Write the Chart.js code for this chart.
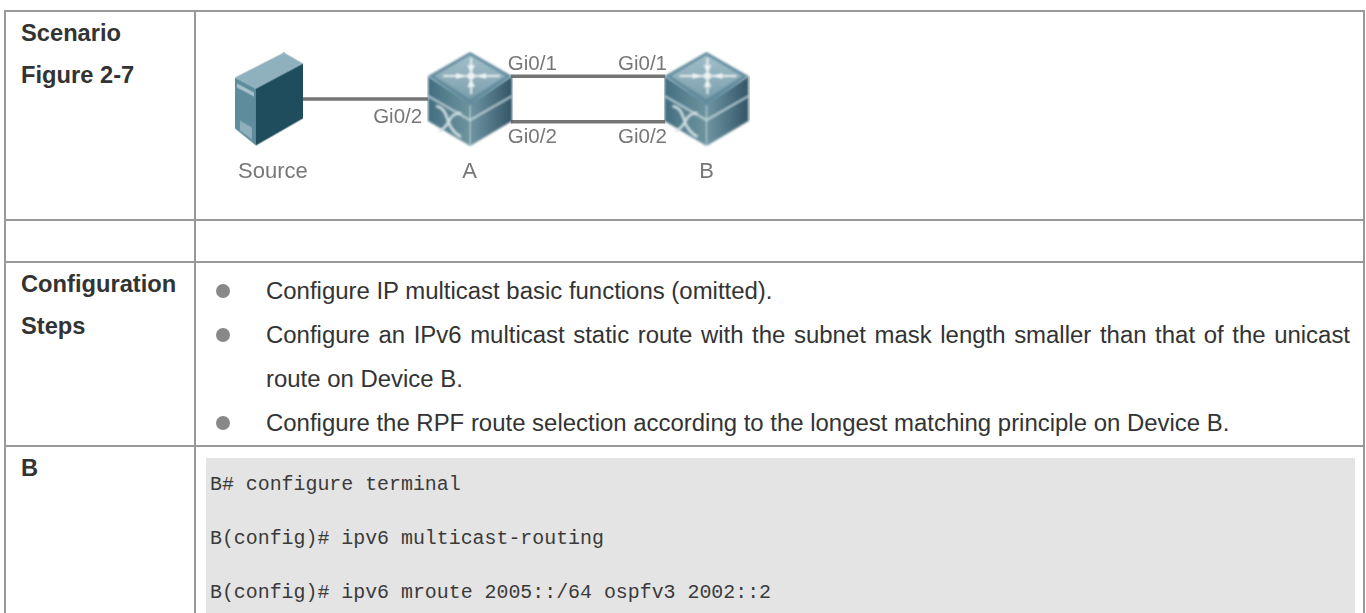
<!DOCTYPE html>
<html>
<head>
<meta charset="utf-8">
<script src="https://cdn.jsdelivr.net/npm/chart.js@4"></script>
<style>
html, body { margin: 0; width: 1366px; height: 613px; overflow: hidden; background: #fff; }
body { font-family: "Liberation Sans", Arial, sans-serif; color: #333; position: relative; }
table { position: absolute; left: 4px; top: 10px; width: 1361px; border-collapse: collapse; table-layout: fixed; }
td { border: 2px solid #999; vertical-align: top; padding: 0; }
.rotulo { font-weight: bold; font-size: 23.7px; line-height: 42px; padding: 0 0 0 15px; }
ul { list-style: none; margin: 0; padding: 6px 13px 0 70px; font-size: 23.95px; line-height: 44px; text-align: justify; }
li { position: relative; }
li::before { content: ""; position: absolute; left: -50px; top: 15px; width: 14px; height: 14px; border-radius: 50%; background: #888; }
#comandos { margin: 11px 8px 0 10px; background: #e4e4e4; padding: 0 4px; font-family: "Liberation Mono", monospace; font-size: 19.9px; line-height: 54px; height: 220px; white-space: pre; color: #3a3a3a; }
#diagrama { position: absolute; left: 200px; top: 20px; }
</style>
</head>
<body>
<table>
  <colgroup><col style="width:190px"><col></colgroup>
  <tr style="height:209px"><td class="rotulo" id="cenario"></td><td></td></tr>
  <tr style="height:42px"><td></td><td></td></tr>
  <tr style="height:184px"><td class="rotulo" id="passos"></td><td><ul id="listaPassos"></ul></td></tr>
  <tr style="height:220px"><td class="rotulo" id="dispositivo"></td><td><div id="comandos"></div></td></tr>
</table>
<canvas id="diagrama" width="600" height="195"></canvas>

<script>
const rotuloCenario = ["Scenario", "Figure 2-7"];
const rotuloPassos = ["Configuration", "Steps"];
const rotuloDispositivo = ["B"];
const passos = [
    "Configure IP multicast basic functions (omitted).",
    "Configure an IPv6 multicast static route with the subnet mask length smaller than that of the unicast route on Device B.",
    "Configure the RPF route selection according to the longest matching principle on Device B."
];
const comandos = [
    "B# configure terminal",
    "B(config)# ipv6 multicast-routing",
    "B(config)# ipv6 mroute 2005::/64 ospfv3 2002::2"
];

// diagrama: posicoes em px da pagina, os eixos do grafico vao de 200 a 800 e de 20 a 215
const nosNomes = ["Source", "A", "B"];
const nosX = [265, 469.5, 710];
const nosY = [98.5, 98, 98];
const nosRotuloX = [269, 469, 710];
const nosRotuloY = [175, 175, 175];
const ligacoes = [
    [[299, 98], [427, 98]],
    [[511, 74], [668, 74]],
    [[511, 122], [668, 122]]
];
const portasTexto = ["Gi0/1", "Gi0/1", "Gi0/2", "Gi0/2", "Gi0/2"];
const portasX = [508, 620, 371, 508, 620];
const portasY = [61, 61, 117, 138, 138];

document.getElementById("cenario").innerHTML = rotuloCenario.join("<br>");
document.getElementById("passos").innerHTML = rotuloPassos.join("<br>");
document.getElementById("dispositivo").innerHTML = rotuloDispositivo.join("<br>");
document.getElementById("listaPassos").innerHTML = passos.map(p => `<li>${p}</li>`).join("");
document.getElementById("comandos").textContent = comandos.join("\n");

function poligono(ctx, pts, cor) {
    ctx.beginPath();
    pts.forEach((p, i) => i ? ctx.lineTo(p[0], p[1]) : ctx.moveTo(p[0], p[1]));
    ctx.closePath();
    ctx.fillStyle = cor;
    ctx.fill();
}

function gradiente(ctx, x0, x1, a, b) {
    const g = ctx.createLinearGradient(x0, 0, x1, 0);
    g.addColorStop(0, a);
    g.addColorStop(1, b);
    return g;
}

function iconeSwitch() {
    const c = document.createElement("canvas");
    c.width = 86;
    c.height = 96;
    const ctx = c.getContext("2d");
    ctx.filter = "blur(0.8px)";
    poligono(ctx, [[1, 25], [43, 52], [43, 95], [1, 70]], gradiente(ctx, 1, 43, "#446f81", "#6f959f"));
    poligono(ctx, [[85, 25], [43, 52], [43, 95], [85, 70]], gradiente(ctx, 43, 85, "#6f95a3", "#335666"));
    poligono(ctx, [[43, 1], [85, 25], [43, 55], [1, 25]], "#628c9e");
    const topo = ctx.createLinearGradient(0, 3, 0, 47);
    topo.addColorStop(0, "#a3c0ca");
    topo.addColorStop(1, "#7da0ae");
    poligono(ctx, [[43, 4], [79, 25], [43, 48], [7, 25]], topo);

    // friso claro entre a tampa e o corpo
    ctx.strokeStyle = "#c7d8dd";
    ctx.lineWidth = 2;
    ctx.beginPath();
    ctx.moveTo(1, 45);
    ctx.lineTo(43, 69);
    ctx.lineTo(85, 45);
    ctx.stroke();

    // setas para o centro
    ctx.strokeStyle = "#eef3f4";
    ctx.fillStyle = "#eef3f4";
    ctx.lineWidth = 2;
    ctx.beginPath();
    ctx.moveTo(44, 7);
    ctx.lineTo(44, 43);
    ctx.moveTo(16, 25);
    ctx.lineTo(73, 25);
    ctx.stroke();
    poligono(ctx, [[44, 21], [40, 14], [48, 14]], "#eef3f4");
    poligono(ctx, [[44, 29], [40, 36], [48, 36]], "#eef3f4");
    poligono(ctx, [[37, 25], [29, 22], [29, 28]], "#eef3f4");
    poligono(ctx, [[51, 25], [59, 22], [59, 28]], "#eef3f4");
    ctx.beginPath();
    ctx.arc(44, 25, 3.5, 0, Math.PI * 2);
    ctx.fill();

    // simbolo do switch
    ctx.strokeStyle = "#d5e2e6";
    ctx.lineWidth = 2.6;
    ctx.beginPath();
    ctx.moveTo(9, 55);
    ctx.bezierCurveTo(24, 58, 16, 76, 34, 86);
    ctx.moveTo(34, 62);
    ctx.bezierCurveTo(20, 62, 24, 76, 12, 80);
    ctx.stroke();
    return c;
}

function iconeServidor() {
    const c = document.createElement("canvas");
    c.width = 68;
    c.height = 94;
    const ctx = c.getContext("2d");
    ctx.filter = "blur(0.7px)";
    poligono(ctx, [[0, 25], [21, 36], [21, 93], [0, 76]], "#5f8c9d");
    poligono(ctx, [[21, 36], [68, 11], [68, 66], [21, 93]], "#1f4d5e");
    poligono(ctx, [[0, 25], [49, 0], [68, 11], [21, 36]], "#8fb1bd");
    poligono(ctx, [[5, 68], [17, 75], [17, 87], [5, 78]], "#8fafba");
    poligono(ctx, [[2, 31], [19, 40], [19, 44], [2, 35]], "#a9c3cc");
    return c;
}

const icones = [iconeServidor(), iconeSwitch(), iconeSwitch()];

const rotulosPlugin = {
    id: "rotulos",
    afterDatasetsDraw(chart) {
        const { ctx, scales } = chart;
        ctx.save();
        ctx.fillStyle = "#777";
        ctx.filter = "blur(0.4px)";
        ctx.textBaseline = "middle";
        ctx.textAlign = "left";
        ctx.font = '20.5px "Liberation Sans"';
        portasTexto.forEach((t, i) => {
            ctx.fillText(t, scales.x.getPixelForValue(portasX[i]), scales.y.getPixelForValue(portasY[i]));
        });
        ctx.textAlign = "center";
        ctx.font = '22px "Liberation Sans"';
        nosNomes.forEach((t, i) => {
            ctx.fillText(t, scales.x.getPixelForValue(nosRotuloX[i]), scales.y.getPixelForValue(nosRotuloY[i]));
        });
        ctx.restore();
    }
};

new Chart(document.getElementById("diagrama"), {
    type: "scatter",
    data: {
        datasets: [
            {
                label: "nos",
                data: nosX.map((x, i) => ({ x: x, y: nosY[i] })),
                pointStyle: icones,
                showLine: false
            },
            ...ligacoes.map(l => ({
                label: "ligacao",
                data: l.map(p => ({ x: p[0], y: p[1] })),
                showLine: true,
                borderColor: "#757575",
                borderWidth: 3.5,
                pointRadius: 0
            }))
        ]
    },
    plugins: [rotulosPlugin],
    options: {
        responsive: false,
        animation: false,
        layout: { padding: 0 },
        plugins: { legend: { display: false }, tooltip: { enabled: false } },
        scales: {
            x: { type: "linear", display: false, min: 200, max: 800 },
            y: { type: "linear", display: false, min: 20, max: 215, reverse: true }
        }
    }
});
</script>
</body>
</html>
